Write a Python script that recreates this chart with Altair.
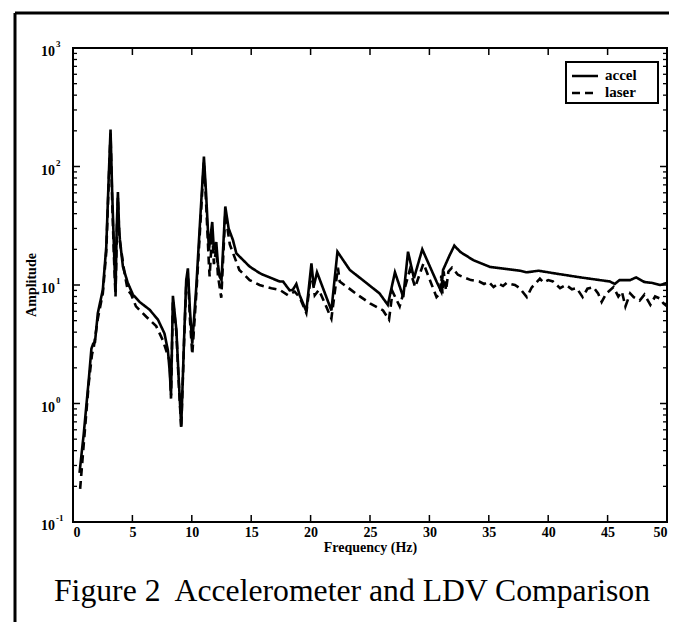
import altair as alt
import pandas as pd

# ---------------- data ----------------
freq_accel = [0.55, 0.9, 1.33, 1.55, 1.7, 1.85, 2.09, 2.51, 2.8, 3.02, 3.16, 3.3, 3.45, 3.58, 3.68,
              3.78, 3.88, 3.95, 4.2, 4.6, 5.04, 5.6, 6.44, 7.15, 7.7, 7.99, 8.15, 8.25, 8.41, 8.7,
              8.9, 9.11, 9.35, 9.53, 9.67, 9.85, 10.04, 10.38, 10.7, 11.02, 11.2, 11.44, 11.72, 11.86,
              12.06, 12.2, 12.34, 12.5, 12.82, 13.1, 13.46, 13.75, 14.87, 15.71, 16.0, 17.4, 17.68,
              18.24, 18.5, 18.8, 19.08, 19.64, 20.07, 20.26, 20.54, 21.75, 22.26, 23.3, 24.7, 25.8,
              26.5, 27.1, 27.8, 28.2, 28.7, 29.4, 30.6, 31.0, 31.15, 31.7, 32.1, 32.6, 33.7, 35.1,
              37.6, 38.2, 39.2, 40.4, 42.7, 45.2, 45.6, 46.0, 46.9, 47.4, 48.1, 48.8, 49.4, 50.0]
amp_accel = [0.26, 0.55, 1.6, 2.9, 3.2, 3.3, 5.8, 9.1, 21, 88, 205, 60, 20, 8.7, 30,
             61, 30, 24, 14.3, 10.5, 8.3, 7.2, 6.2, 5.1, 3.9, 2.8, 1.8, 1.17, 8.1, 4.2,
             1.6, 0.64, 3.5, 11, 13.8, 6, 3.2, 9.7, 35, 121, 60, 19.7, 34, 19.7,
             23, 15, 11.8, 11, 46, 30, 24, 18.5, 14.3, 12.6, 12.2, 10.7, 10.7,
             9.0, 9.1, 10.2, 8.2, 6.0, 15.2, 9.7, 12.8, 6.1, 19.1, 13.4, 10.4, 8.5,
             6.8, 12.8, 7.9, 19.1, 11.4, 20, 10.7, 8.8, 13.4, 17.8, 21.5, 19, 16.2, 14.2,
             13.2, 12.8, 13.2, 12.6, 11.6, 10.7, 10.2, 11.0, 11.0, 11.6, 10.6, 10.4, 10.0, 10.4]

freq_laser = [0.6, 0.9, 1.33, 1.6, 1.75, 2.09, 2.51, 2.8, 3.02, 3.16, 3.3, 3.45, 3.58, 3.7, 3.78,
              3.9, 4.34, 4.6, 4.9, 5.3, 6.17, 7.0, 7.57, 8.13, 8.25, 8.41, 8.7, 8.9, 9.11, 9.35,
              9.53, 9.67, 9.85, 10.04, 10.38, 10.7, 11.02, 11.2, 11.44, 11.5, 11.72, 11.86, 12.06,
              12.2, 12.48, 12.82, 13.2, 14.0, 14.87, 15.7, 16.7, 17.4, 18.1, 18.66, 19.1, 19.64,
              20.07, 20.35, 20.7, 21.2, 21.75, 22.3, 22.45, 23.4, 24.0, 25.0, 26.1, 26.6, 26.9,
              27.5, 28.35, 28.8, 29.5, 30.6, 30.9, 31.0, 31.1, 31.2, 31.4, 31.6, 31.9, 32.4, 33.0,
              33.5, 34.2, 34.6, 35.0, 35.4, 35.8, 36.2, 36.5, 37.2, 37.6, 38.2, 38.6, 39.3, 39.6,
              40.0, 40.4, 41.0, 41.5, 42.0, 42.4, 42.9, 43.3, 43.8, 44.2, 44.5, 44.9, 45.5, 45.9,
              46.2, 46.5, 46.9, 47.2, 47.7, 48.1, 48.6, 49.0, 49.4, 49.7, 50.0]
amp_laser = [0.19, 0.45, 1.5, 2.6, 3.0, 5.2, 8.5, 19, 80, 190, 50, 17, 8.0, 30, 55,
             25, 12.6, 9.1, 8.3, 6.6, 5.4, 4.5, 3.4, 2.3, 1.1, 7.5, 4.0, 1.5, 0.62, 3.3,
             10, 12.5, 5, 2.6, 8.5, 30, 110, 50, 15, 11.8, 28, 15, 20,
             12, 7.8, 40, 22, 13.4, 11, 10, 9.4, 9.1, 8.2, 8.8, 7.8, 5.8,
             13, 8.2, 9.1, 7.0, 5.2, 14, 10.7, 9.1, 8.2, 7.0, 6.1, 5.1, 8.8,
             6.6, 13.4, 9.6, 15.2, 7.9, 8.5, 12, 8.5, 13, 9, 13, 14, 12.2, 11.5,
             11, 10.7, 10.2, 10.6, 9.6, 10.3, 9.8, 10.4, 10.0, 9.4, 7.9, 9.5, 11.3, 10.5,
             11.0, 10.7, 9.4, 10.0, 9.2, 9.4, 7.9, 9.3, 9.6, 8.5, 7.2, 8.5, 9.6, 8.0,
             8.8, 6.6, 8.5, 7.9, 7.4, 8.3, 6.8, 8.0, 7.7, 7.0, 6.6]

series_names = ["accel", "laser"]
x_tick_values = [0, 5, 10, 15, 20, 25, 30, 35, 40, 45, 50]
y_decades = [0.1, 1, 10, 100, 1000]
y_exponents = ["-1", "0", "1", "2", "3"]
x_title = "Frequency (Hz)"
y_title = "Amplitude"
caption = "Figure 2\u00a0 Accelerometer and LDV Comparison"

# ---------------- tables ----------------
df = pd.concat([
    pd.DataFrame({"f": freq_accel, "amp": amp_accel, "series": series_names[0]}),
    pd.DataFrame({"f": freq_laser, "amp": amp_laser, "series": series_names[1]}),
], ignore_index=True)

major_df = pd.DataFrame({"amp": y_decades, "base": ["10"] * len(y_decades), "exp": y_exponents})
minor_df = pd.DataFrame({"amp": [m * d for d in y_decades[:-1] for m in range(2, 10)]})
xt_df = pd.DataFrame({"f": x_tick_values[1:-1]})

W, H = 594, 474
SERIF = "Liberation Serif"

xscale = alt.Scale(domain=[0, 50], nice=False, zero=False)
yscale = alt.Scale(type="log", domain=[0.1, 1000], nice=False)
xaxis = alt.Axis(values=x_tick_values, ticks=False, domain=False, grid=False,
                 labelFont=SERIF, labelFontSize=14, labelFontWeight="bold", labelColor="black",
                 labelPadding=3, title=x_title, titleFont=SERIF, titleFontSize=14,
                 titleFontWeight="bold", titleColor="black", titlePadding=1)
X = alt.X("f:Q", scale=xscale, axis=xaxis)
Y = alt.Y("amp:Q", scale=yscale, axis=None)
dash_scale = alt.Scale(domain=series_names, range=[[1, 0], [8, 5]])

lines = alt.Chart(df).mark_line(color="black", strokeWidth=2.6, clip=True).encode(
    x=X, y=Y,
    strokeDash=alt.StrokeDash("series:N", scale=dash_scale, legend=None),
)

# inward ticks
ymaj_l = alt.Chart(major_df).mark_rule(color="black", strokeWidth=1.5).encode(
    y=Y, x=alt.value(0), x2=alt.value(7))
ymaj_r = alt.Chart(major_df).mark_rule(color="black", strokeWidth=1.5).encode(
    y=Y, x=alt.value(W), x2=alt.value(W - 7))
ymin_l = alt.Chart(minor_df).mark_rule(color="black", strokeWidth=1.3).encode(
    y=Y, x=alt.value(0), x2=alt.value(4))
ymin_r = alt.Chart(minor_df).mark_rule(color="black", strokeWidth=1.3).encode(
    y=Y, x=alt.value(W), x2=alt.value(W - 4))
xt_b = alt.Chart(xt_df).mark_rule(color="black", strokeWidth=1.5).encode(
    x=X, y=alt.value(H), y2=alt.value(H - 7))
xt_t = alt.Chart(xt_df).mark_rule(color="black", strokeWidth=1.5).encode(
    x=X, y=alt.value(0), y2=alt.value(7))

# y tick labels 10^k
ylab_base = alt.Chart(major_df).mark_text(font=SERIF, fontSize=14, fontWeight="bold",
                                          align="right", baseline="middle", dy=4,
                                          color="black").encode(
    y=Y, x=alt.value(-18), text="base:N")
ylab_exp = alt.Chart(major_df).mark_text(font=SERIF, fontSize=9, fontWeight="bold",
                                         align="left", baseline="middle", dy=-4,
                                         color="black").encode(
    y=Y, x=alt.value(-17), text="exp:N")

ytitle = alt.Chart(pd.DataFrame({"t": [y_title]})).mark_text(
    font=SERIF, fontSize=14, fontWeight="bold", angle=270, align="center",
    baseline="middle", color="black").encode(
    x=alt.value(-41), y=alt.value(H / 2), text="t:N")

# legend box (top right, inside the plot)
leg_df = pd.DataFrame({"series": series_names, "row": [0, 1]})
leg_box = alt.Chart(pd.DataFrame({"k": [0]})).mark_rect(
    fill="white", stroke="black", strokeWidth=2).encode(
    x=alt.value(493), x2=alt.value(585), y=alt.value(14), y2=alt.value(55))
leg_line1 = alt.Chart(leg_df.iloc[[0]]).mark_rule(color="black", strokeWidth=2.4).encode(
    x=alt.value(499), x2=alt.value(525), y=alt.value(28),
    strokeDash=alt.StrokeDash("series:N", scale=dash_scale, legend=None))
leg_line2 = alt.Chart(leg_df.iloc[[1]]).mark_rule(color="black", strokeWidth=2.4).encode(
    x=alt.value(499), x2=alt.value(525), y=alt.value(45),
    strokeDash=alt.StrokeDash("series:N", scale=dash_scale, legend=None))
leg_text1 = alt.Chart(leg_df.iloc[[0]]).mark_text(
    font=SERIF, fontSize=15, fontWeight="bold", align="left", baseline="middle",
    color="black").encode(x=alt.value(532), y=alt.value(27), text="series:N")
leg_text2 = alt.Chart(leg_df.iloc[[1]]).mark_text(
    font=SERIF, fontSize=15, fontWeight="bold", align="left", baseline="middle",
    color="black").encode(x=alt.value(532), y=alt.value(44), text="series:N")

cap = alt.Chart(pd.DataFrame({"t": [caption]})).mark_text(
    font=SERIF, fontSize=31.7, align="center", baseline="alphabetic", color="black").encode(
    x=alt.value(279), y=alt.value(553), text="t:N")

# outer figure frame lines
frame_top = alt.Chart(pd.DataFrame({"k": [0]})).mark_rule(color="black", strokeWidth=3).encode(
    x=alt.value(-58), x2=alt.value(W + 20), y=alt.value(-35))
frame_left = alt.Chart(pd.DataFrame({"k": [0]})).mark_rule(color="black", strokeWidth=3).encode(
    x=alt.value(-58), y=alt.value(-35), y2=alt.value(H + 120))

chart = alt.layer(
    lines, ymaj_l, ymaj_r, ymin_l, ymin_r, xt_b, xt_t,
    ylab_base, ylab_exp, ytitle,
    leg_box, leg_line1, leg_line2, leg_text1, leg_text2,
    cap, frame_top, frame_left,
).properties(
    width=W, height=H,
    autosize=alt.AutoSizeParams(type="none"),
    padding={"left": 65, "top": 40, "right": 2, "bottom": 100},
).configure_view(
    stroke="black", strokeWidth=2
)

chart.save("out.html", embed_options={"renderer": "svg", "actions": False})
